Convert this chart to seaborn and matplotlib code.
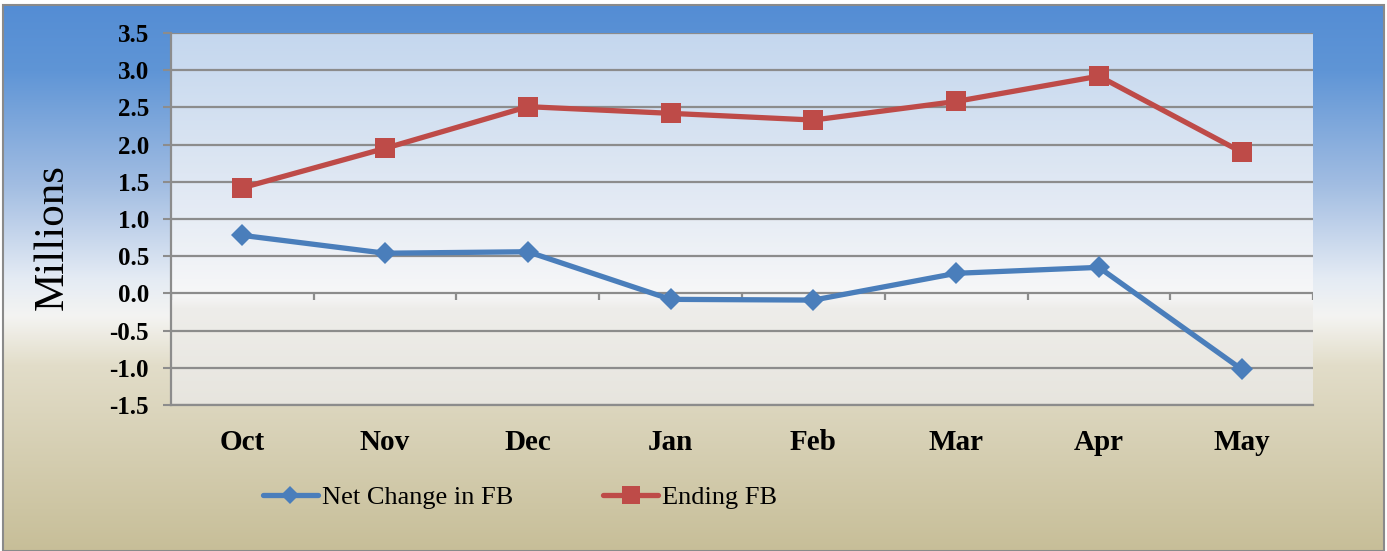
"""Fund balance by month: net change vs ending balance (millions)."""

import matplotlib
matplotlib.use("Agg")

import matplotlib.pyplot as plt
import numpy as np
import seaborn as sns
from matplotlib.patches import Rectangle

months = ["Oct", "Nov", "Dec", "Jan", "Feb", "Mar", "Apr", "May"]
net_change = [0.78, 0.54, 0.56, -0.08, -0.09, 0.27, 0.35, -1.02]
ending_fb = [1.42, 1.95, 2.51, 2.42, 2.33, 2.58, 2.92, 1.90]
y_ticks = [-1.5, -1.0, -0.5, 0.0, 0.5, 1.0, 1.5, 2.0, 2.5, 3.0, 3.5]

BLUE = "#4a7ebb"
RED = "#be4b48"
GRID = "#8c8c8c"


def vertical_gradient(stops, n=600):
    """stops: list of (pos 0=top..1=bottom, hex colour)."""
    pos = np.array([p for p, _ in stops])
    cols = np.array([matplotlib.colors.to_rgb(c) for _, c in stops])
    t = np.linspace(0, 1, n)
    rgb = np.stack([np.interp(t, pos, cols[:, k]) for k in range(3)], axis=1)
    return rgb[:, None, :]


sns.set_theme(style="white")
plt.rcParams["font.family"] = ["Liberation Serif", "DejaVu Serif"]
plt.rcParams["text.color"] = "black"
plt.rcParams["xtick.labelcolor"] = "black"
plt.rcParams["ytick.labelcolor"] = "black"

fig = plt.figure(figsize=(13.87, 5.51), dpi=100, facecolor="white")

# figure background gradient (blue -> white -> beige)
bg = fig.add_axes([3 / 1387, 0, 1382 / 1387, 546 / 551], zorder=-10)
bg.imshow(
    vertical_gradient([
        (0.0, "#548dd4"), (0.12, "#5f95d6"), (0.33, "#a2bde2"),
        (0.50, "#e4ebf4"), (0.57, "#f4f4f2"), (0.66, "#e2ddc9"),
        (1.0, "#c7be98"),
    ]),
    aspect="auto", extent=[0, 1, 0, 1],
)
bg.set_axis_off()
fig.patches.append(Rectangle((3 / 1387, 0), 1381 / 1387, 546 / 551,
                             transform=fig.transFigure, fill=False,
                             edgecolor="#8a8a8a", linewidth=1.5))

ax = fig.add_axes([171 / 1387, 1 - 405 / 551, 1142 / 1387, 372 / 551])
ax.set_facecolor("none")

sns.lineplot(x=months, y=net_change, sort=False, ax=ax, color=BLUE,
             linewidth=3.8, marker="D", markersize=11.5, markeredgewidth=0,
             label="Net Change in FB")
sns.lineplot(x=months, y=ending_fb, sort=False, ax=ax, color=RED,
             linewidth=3.8, marker="s", markersize=15, markeredgewidth=0,
             label="Ending FB")

ax.set_xlim(-0.5, len(months) - 0.5)
ax.set_ylim(y_ticks[0], y_ticks[-1])

# plot-area gradient
ax.imshow(
    vertical_gradient([
        (0.0, "#c4d7ee"), (0.45, "#e3eaf4"), (0.70, "#f7f7f8"),
        (0.74, "#eeedea"), (1.0, "#e7e5de"),
    ]),
    aspect="auto", extent=[-0.5, len(months) - 0.5, y_ticks[0], y_ticks[-1]],
    zorder=0,
)

ax.set_yticks(y_ticks)
ax.set_yticklabels([f"{v:.1f}" for v in y_ticks], fontsize=18, fontweight="bold")
ax.set_xticks(range(len(months)))
ax.set_xticklabels(months, fontsize=21, fontweight="bold")
ax.tick_params(axis="y", length=6, width=1.5, color=GRID, pad=10, left=True)
ax.tick_params(axis="x", length=0, pad=17)
ax.grid(axis="y", color=GRID, linewidth=1.6, zorder=1)
ax.set_axisbelow(True)
for side in ["top", "right"]:
    ax.spines[side].set_visible(False)
for side in ["left", "bottom"]:
    ax.spines[side].set_color(GRID)
    ax.spines[side].set_linewidth(1.6)

# category boundary ticks on the zero line
ax.vlines(np.arange(len(months) + 1) - 0.5, -0.095, 0, color=GRID,
          linewidth=1.6, zorder=1)
ax.set_xlabel("")
ax.set_ylabel("")

fig.text(52 / 1387, 1 - 237 / 551, "Millions", rotation=90, fontsize=31,
         ha="center", va="center")

handles, labels = ax.get_legend_handles_labels()
ax.get_legend().remove()
leg = fig.legend(handles, labels, loc="center", bbox_to_anchor=(520 / 1387, 1 - 497 / 551),
                 ncol=2, frameon=False, fontsize=19, handlelength=2.1,
                 handletextpad=0.15, columnspacing=3.4)
leg.legend_handles[0].set_markersize(9)
leg.legend_handles[1].set_markersize(13)

fig.savefig("out.png", dpi=100, facecolor=fig.get_facecolor())
plt.close(fig)
